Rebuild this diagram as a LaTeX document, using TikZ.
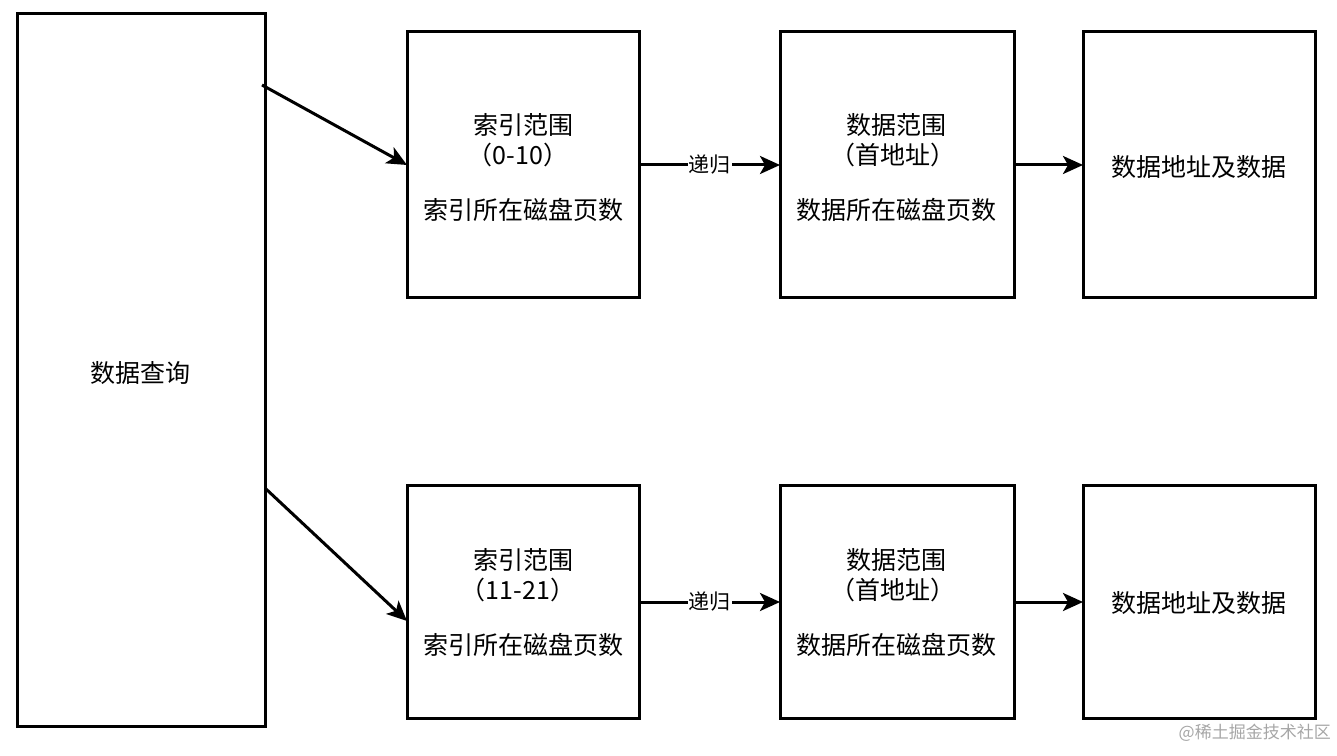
\documentclass[tikz,border=0pt]{standalone}
\usepackage{fontspec}
\setmainfont{Noto Sans CJK SC}
\usetikzlibrary{arrows.meta,calc}
\begin{document}
\begin{tikzpicture}[x=1pt,y=1pt,
  box/.style={draw, line width=3pt, inner sep=0pt, outer sep=0pt},
  txt/.style={font=\fontsize{25}{28}\selectfont, inner sep=0pt},
  lbl/.style={font=\fontsize{21}{24}\selectfont, fill=white, inner sep=1pt},
  conn/.style={line width=3pt, -{Stealth[length=20pt,width=18pt,inset=5pt]}}]
\useasboundingbox (0,0) rectangle (1337,755);
% boxes
\node[box, minimum width=248pt, minimum height=712pt] (Q) at (141,385) {};
\node[box, minimum width=232pt, minimum height=266pt] (A1) at (523,590) {};
\node[box, minimum width=234pt, minimum height=266pt] (B1) at (897,590) {};
\node[box, minimum width=232pt, minimum height=266pt] (C1) at (1199,590) {};
\node[box, minimum width=232pt, minimum height=232pt] (A2) at (523,153) {};
\node[box, minimum width=234pt, minimum height=232pt] (B2) at (897,153) {};
\node[box, minimum width=232pt, minimum height=232pt] (C2) at (1199,153) {};
% texts
\node[txt] (tq) at (140,382) {数据查询};
\node[txt] (ta1a) at (523,630) {索引范围};
\node[txt] (ta1b) at (518,600) {（0-10）};
\node[txt] (ta1c) at (523,545) {索引所在磁盘页数};
\node[txt] (tb1a) at (896,630) {数据范围};
\node[txt] (tb1b) at (893,600) {（首地址）};
\node[txt] (tb1c) at (896,545) {数据所在磁盘页数};
\node[txt] (tc1) at (1199,588) {数据地址及数据};
\node[txt] (ta2a) at (523,195) {索引范围};
\node[txt] (ta2b) at (518,165) {（11-21）};
\node[txt] (ta2c) at (523,110) {索引所在磁盘页数};
\node[txt] (tb2a) at (896,195) {数据范围};
\node[txt] (tb2b) at (893,165) {（首地址）};
\node[txt] (tb2c) at (896,110) {数据所在磁盘页数};
\node[txt] (tc2) at (1199,152) {数据地址及数据};
% connectors
\coordinate (s1) at (262,670);
\coordinate (s2) at (266,266);
\draw[conn] (s1) -- (A1.west);
\draw[conn] (s2) -- ($(A2.west)+(0,-19)$);
\draw[conn] (A1.east) -- node[lbl] (r1) {递归} (B1.west);
\draw[conn] (B1.east) -- (C1.west);
\draw[conn] (A2.east) -- node[lbl] (r2) {递归} (B2.west);
\draw[conn] (B2.east) -- (C2.west);
% watermark
\node[font=\fontsize{17}{19}\selectfont, text=black!35, anchor=east, inner sep=0pt] (wm) at (1331,22) {@稀土掘金技术社区};
\end{tikzpicture}
\end{document}
